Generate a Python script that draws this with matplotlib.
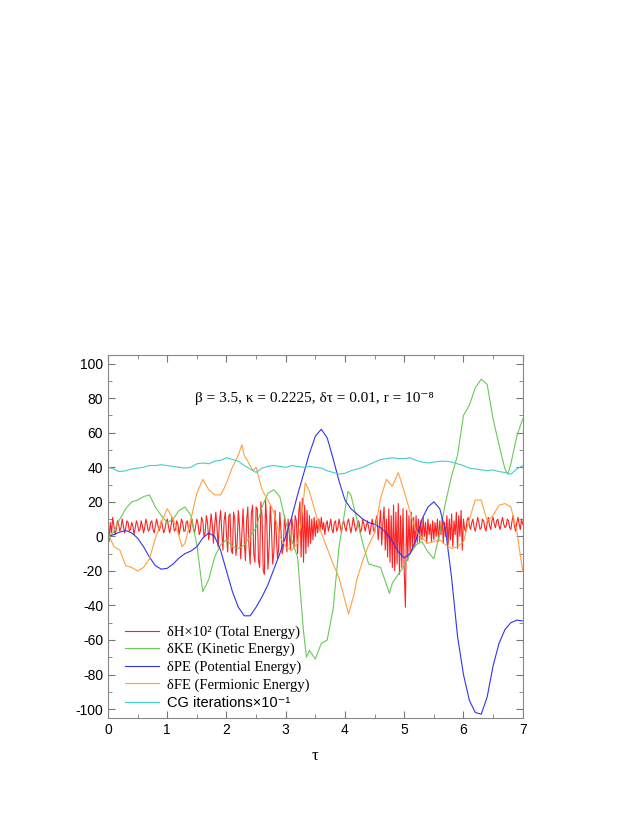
import numpy as np
import matplotlib
matplotlib.use("Agg")
from matplotlib import pyplot as plt

plt.rcParams['font.family'] = ['Liberation Sans', 'DejaVu Sans']
plt.rcParams['axes.unicode_minus'] = False

# delta PE (potential energy)
pe_t = [0.0, 0.1, 0.2, 0.3, 0.4, 0.5, 0.6, 0.7, 0.8, 0.9, 1.0, 1.1, 1.2, 1.3, 1.4, 1.5, 1.6, 1.7,
        1.8, 1.9, 2.0, 2.1, 2.2, 2.3, 2.4, 2.5, 2.6, 2.7, 2.8, 2.9, 3.0, 3.1, 3.2, 3.3, 3.4, 3.5,
        3.6, 3.7, 3.8, 3.9, 4.0, 4.1, 4.2, 4.3, 4.4, 4.5, 4.6, 4.7, 4.8, 4.9, 5.0, 5.1, 5.2, 5.3,
        5.4, 5.5, 5.6, 5.7, 5.8, 5.9, 6.0, 6.1, 6.2, 6.3, 6.4, 6.5, 6.6, 6.7, 6.8, 6.9, 7.0]
pe_v = [0, 1, 2.5, 3.3, 2, -1, -6, -12, -17, -19, -18.5, -16, -12.5, -10, -8.5, -6, -1, 2,
        0, -8, -20, -32, -41, -46, -46, -41, -35, -28, -19, -10, 0, 11, 24, 36, 48, 58,
        62, 57, 45, 32, 21, 16, 13, 10, 8, 7, 5, 2, -3, -9, -12.5, -10, -2, 10,
        17, 20, 16, 3, -24, -58, -80, -95, -102, -103, -93, -75, -62, -54, -50, -48.5, -49]

# delta KE (kinetic energy)
ke_t = [0.0, 0.1, 0.2, 0.3, 0.4, 0.5, 0.6, 0.7, 0.8, 0.9, 1.0, 1.1, 1.2, 1.3, 1.4, 1.5, 1.6, 1.7,
        1.8, 1.9, 2.0, 2.1, 2.2, 2.3, 2.4, 2.5, 2.6, 2.7, 2.8, 2.9, 3.0, 3.1, 3.2, 3.3, 3.35, 3.4,
        3.5, 3.6, 3.7, 3.8, 3.9, 4.0, 4.05, 4.1, 4.2, 4.3, 4.4, 4.5, 4.6, 4.7, 4.75, 4.8, 4.9,
        5.0, 5.1, 5.2, 5.3, 5.4, 5.5, 5.6, 5.7, 5.8, 5.9, 6.0, 6.05, 6.1, 6.2, 6.3, 6.4, 6.5,
        6.6, 6.7, 6.75, 6.8, 6.9, 7.0]
ke_v = [-2, 3, 10, 16, 20, 21, 23, 24, 17, 12, 8, 10, 15, 17, 12, -5, -32, -25,
        -12, -5, -2, -6, -7, -5, 0, 5, 17, 25, 27, 23, 8, -2, -12, -55, -70, -66,
        -71, -62, -60, -42, -6, 15, 26, 24, 10, -4, -16, -17, -18, -28, -33, -27, -22,
        -17, -10, -5, -3, -9, -13, 2, 20, 35, 47, 70, 73, 76, 86, 91, 88, 68,
        53, 39, 36, 42, 58, 68]

# delta FE (fermionic energy)
fe_t = [0.0, 0.1, 0.2, 0.3, 0.4, 0.5, 0.6, 0.7, 0.8, 0.9, 1.0, 1.1, 1.2, 1.25, 1.3, 1.4, 1.5,
        1.6, 1.7, 1.8, 1.9, 1.95, 2.0, 2.1, 2.2, 2.26, 2.3, 2.35, 2.45, 2.5, 2.6, 2.7, 2.8,
        2.9, 3.0, 3.1, 3.2, 3.25, 3.33, 3.4, 3.5, 3.6, 3.7, 3.8, 3.9, 4.0, 4.06, 4.1, 4.15,
        4.2, 4.3, 4.4, 4.5, 4.6, 4.7, 4.8, 4.9, 5.0, 5.1, 5.2, 5.3, 5.4, 5.5, 5.6, 5.7, 5.8,
        5.9, 6.0, 6.1, 6.2, 6.3, 6.4, 6.5, 6.6, 6.7, 6.8, 6.9, 7.0]
fe_v = [2, -6, -8, -17, -18, -20, -18, -13, -1, 8, 16, 10, 0, -6, -4, 10, 25,
        33, 27, 24, 24, 27, 31, 40, 47, 53, 47, 44, 38, 40, 27, 21, 14,
        0, -6, -8, -4, 5, 31, 26, 14, 2, -7, -16, -24, -37, -45, -40, -34,
        -25, -14, -5, 2, 22, 33, 29, 37, 26, 14, 3, -1, -4, -3, -2, -5, -7,
        -6, -3, 10, 21, 21, 9, 12, 18, 19, 17, 3, -20]

# CG iterations x 10^-1
cg_t = [0.0, 0.1, 0.15, 0.2, 0.3, 0.4, 0.5, 0.6, 0.7, 0.8, 0.9, 1.0, 1.1, 1.2, 1.3, 1.4, 1.5,
        1.6, 1.7, 1.8, 1.9, 2.0, 2.1, 2.2, 2.3, 2.4, 2.5, 2.6, 2.7, 2.8, 2.9, 3.0, 3.1, 3.2,
        3.3, 3.4, 3.5, 3.6, 3.7, 3.8, 3.9, 4.0, 4.1, 4.2, 4.3, 4.4, 4.5, 4.6, 4.7, 4.8, 4.9,
        5.0, 5.1, 5.2, 5.3, 5.4, 5.5, 5.6, 5.7, 5.8, 5.9, 6.0, 6.1, 6.2, 6.3, 6.4, 6.5, 6.6,
        6.7, 6.8, 6.9, 7.0]
cg_v = [40, 39, 38, 37.5, 38, 39, 39.5, 40, 41, 41, 41.5, 41, 40.5, 40, 39.5, 40, 42,
        42.5, 42, 43.5, 44, 45.5, 44.5, 43.5, 41, 39, 37, 39.5, 40.5, 41, 40.5, 40, 41, 40.5,
        40, 40.5, 40, 39.5, 38, 37, 36, 36.5, 38, 39, 40, 41.5, 43, 44.5, 45, 45.5, 45,
        45, 45.5, 44, 43, 42.5, 43, 43.5, 43.5, 43, 42, 41, 39.5, 39, 38.5, 38, 38.5, 37.5,
        37, 36, 39, 41]

# delta H x 10^2 (total energy), sampled every 0.02
dh_t = np.linspace(0, 7, 351)
dh_v = [13, -3, 8, 2, 11, 6, 1, 4, 9, 7, 3, 5, 10, 6, 2, 5, 9, 8, 3, 4, 8, 6, 1, 5, 9,
        7, 3, 4, 9, 6, 2, 5, 10, 7, 3, 4, 8, 9, 4, 2, 6, 10, 7, 3, 5, 9, 6, 2, 4, 8,
        10, 6, 2, 5, 11, 8, 3, 4, 9, 7, 1, 5, 10, 8, 3, 3, 8, 9, 4, 2, 7, 10, 5, 2, 6,
        10, 7, 1, 3, 11, 9, 0, 2, 12, 8, -2, 4, 13, 7, -4, 6, 14, 5, -6, 8, 15, 3, -8, 9, 14,
        1, -9, 12, 13, -8, -10, 14, 10, -11, -4, 15, 6, -13, 2, 16, -2, -14, 9, 17, -6, -16, 13, 18, -10, -15,
        17, 16, -14, -18, 20, 12, -20, -22, 21, 8, -19, -6, 18, 4, -16, -9, 15, 2, -13, -7, 14, 3, -10, -6, 12,
        4, -9, 10, 2, -8, 11, 5, -7, 12, 9, -10, 14, 20, -12, 22, -15, 18, -10, 15, -6, 12, -4, 10, -2, 11,
        0, 9, 2, 10, 3, 11, 4, 8, 1, 7, 9, 3, 6, 10, 4, 2, 8, 9, 3, 5, 10, 6, 2, 7, 9,
        5, 3, 8, 10, 6, 2, 6, 11, 7, 3, 5, 9, 8, 2, 4, 10, 7, 3, 6, 9, 5, 1, 6, 10, 4,
        2, 9, 12, -2, 6, 15, -5, 8, 17, -8, 10, -12, 16, -15, 12, -18, 18, -20, 14, -16, 19, -22, 12, -18, 16,
        -20, -41, 15, -14, 12, -10, 14, -8, 11, -6, 12, -4, 10, -3, 9, -2, 11, 0, 8, -4, 10, 1, 7, -3, 9,
        -2, 8, 0, 10, -3, 9, 1, 11, -4, 8, 0, 12, -5, 10, -2, 13, -6, 9, 1, 14, -7, 12, 0, 15, -8,
        10, 4, 3, 9, 11, 6, 4, 8, 10, 5, 3, 7, 11, 8, 4, 5, 10, 9, 5, 3, 8, 11, 6, 4, 9,
        11, 7, 5, 9, 10, 6, 4, 8, 11, 7, 5, 6, 10, 9, 5, 4, 9, 12, 6, 3, 8, 11, 7, 4, 10, 7]

serif = ['Liberation Serif', 'DejaVu Serif']

fig = plt.figure(figsize=(6.3, 8.15), dpi=100)
ax = fig.add_axes([0.1714, 0.1194, 0.6583, 0.445])

lw = 0.8
ax.plot(dh_t, dh_v, color='#ff2222', lw=lw, label='δH×10² (Total Energy)')
ax.plot(ke_t, ke_v, color='#66cc55', lw=lw, label='δKE (Kinetic Energy)')
ax.plot(pe_t, pe_v, color='#3333ee', lw=lw, label='δPE (Potential Energy)')
ax.plot(fe_t, fe_v, color='#ffa040', lw=lw, label='δFE (Fermionic Energy)')
ax.plot(cg_t, cg_v, color='#44cccc', lw=lw, label='CG iterations×10⁻¹')

ax.set_xlim(0, 7)
ax.set_ylim(-105, 105)
ax.set_xticks(np.arange(0, 8, 1))
ax.set_xticks(np.arange(0, 7.01, 0.5), minor=True)
ax.set_yticks(np.arange(-100, 101, 20))
ax.set_yticks(np.arange(-100, 101, 10), minor=True)
ax.tick_params(which='both', direction='in', top=True, right=True, labelsize=10,
               color='#777777')
ax.tick_params(which='major', length=5)
ax.tick_params(which='minor', length=3)
for s in ax.spines.values():
    s.set_color('#888888')
    s.set_linewidth(0.8)

ax.set_xlabel('τ', family=serif, fontsize=12, labelpad=8)
ax.text(0.497, 0.881, 'β = 3.5, κ = 0.2225, δτ = 0.01, r = 10⁻⁸', transform=ax.transAxes,
        ha='center', va='center', family=serif, fontsize=11)

leg = ax.legend(loc='lower left', bbox_to_anchor=(0.041, 0.022), frameon=False,
                borderpad=0, borderaxespad=0,
                handlelength=2.3, handletextpad=0.6, labelspacing=0.28,
                prop={'family': serif, 'size': 10.5})
leg.get_texts()[-1].set_family(['Liberation Sans', 'DejaVu Sans'])

fig.savefig('out.png', dpi=100)
